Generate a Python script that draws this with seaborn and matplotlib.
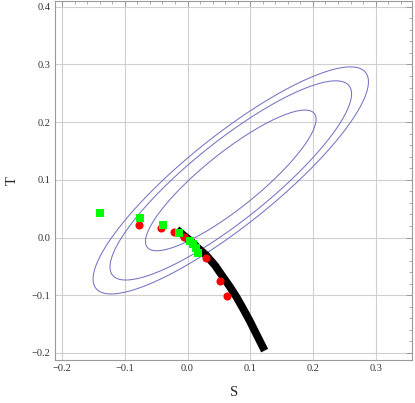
import numpy as np
import pandas as pd
import matplotlib
matplotlib.use("Agg")
import matplotlib.pyplot as plt
import seaborn as sns
from matplotlib.ticker import MultipleLocator, FixedLocator

# ---- data ----
red_S = [-0.078, -0.043, -0.022, -0.005, 0.008, 0.029, 0.052, 0.063]
red_T = [0.022, 0.016, 0.009, 0.001, -0.010, -0.035, -0.075, -0.102]

green_S = [-0.139, -0.076, -0.039, -0.014, 0.004, 0.009, 0.014, 0.017]
green_T = [0.043, 0.033, 0.021, 0.007, -0.006, -0.012, -0.019, -0.027]

curve_S = [-0.017, -0.007, 0.004, 0.017, 0.030, 0.044, 0.057, 0.068, 0.078, 0.089, 0.099, 0.111, 0.123]
curve_T = [0.014, 0.0045, -0.005, -0.0185, -0.031, -0.0485, -0.069, -0.086, -0.103, -0.124, -0.144, -0.170, -0.196]

# fit ellipse parameters (centre, widths, correlation) and chi^2 levels (68%, 90%, 95%)
center_S, center_T = 0.069, 0.099
sigma_S, sigma_T, rho = 0.0897, 0.0804, 0.869
chi2_levels = [2.30, 4.61, 5.99]

x_ticks = [-0.2, -0.1, 0.0, 0.1, 0.2, 0.3]
x_tick_labels = ["\u22120.2", "\u22120.1", "0.0", "0.1", "0.2", "0.3"]
y_ticks = [-0.2, -0.1, 0.0, 0.1, 0.2, 0.3, 0.4]
y_tick_labels = ["\u22120.2", "\u22120.1", "0.0", "0.1", "0.2", "0.3", "0.4"]

# ---- style ----
sns.set_style("white")
plt.rcParams['font.family'] = ['Liberation Serif', 'DejaVu Serif']

W, H = 415, 403
fig = plt.figure(figsize=(W / 100, H / 100), dpi=100)
left, right, top, bottom = 54.5, 412.0, 1.0, 360.0
ax = fig.add_axes([left / W, 1 - bottom / H, (right - left) / W, (bottom - top) / H])

# ellipses via chi^2 contours
gs = np.linspace(-0.3, 0.45, 700)
gt = np.linspace(-0.3, 0.5, 700)
SS, TT = np.meshgrid(gs, gt)
cov = np.array([[sigma_S**2, rho * sigma_S * sigma_T],
                [rho * sigma_S * sigma_T, sigma_T**2]])
inv = np.linalg.inv(cov)
dS, dT = SS - center_S, TT - center_T
chi2 = inv[0, 0] * dS**2 + 2 * inv[0, 1] * dS * dT + inv[1, 1] * dT**2
ax.contour(SS, TT, chi2, levels=chi2_levels, colors='#7474c2', linewidths=0.75, zorder=2)

# thick black curve
curve_df = pd.DataFrame({"S": curve_S, "T": curve_T})
sns.lineplot(data=curve_df, x="S", y="T", sort=False, color="black", lw=5.6,
             ax=ax, zorder=3, solid_capstyle="butt")

red_df = pd.DataFrame({"S": red_S, "T": red_T})
sns.scatterplot(data=red_df, x="S", y="T", color="#ff0000", marker="o", s=34,
                linewidth=0, ax=ax, zorder=4)

green_df = pd.DataFrame({"S": green_S, "T": green_T})
sns.scatterplot(data=green_df, x="S", y="T", color="#00ff00", marker="s", s=30,
                linewidth=0, ax=ax, zorder=5)

ax.set_xlim(-0.2121, 0.358)
ax.set_ylim(-0.2123, 0.410)

ax.xaxis.set_major_locator(FixedLocator(x_ticks))
ax.yaxis.set_major_locator(FixedLocator(y_ticks))
ax.set_xticklabels(x_tick_labels)
ax.set_yticklabels(y_tick_labels)
ax.xaxis.set_minor_locator(MultipleLocator(0.02))
ax.yaxis.set_minor_locator(MultipleLocator(0.02))

ax.grid(True, which='major', color='#cfcfcf', lw=0.8, zorder=0)
ax.set_axisbelow(True)

ax.tick_params(which='both', direction='in', top=True, right=True, color='#9a9a9a',
               labelsize=7.5, labelcolor='#333333', pad=3)
ax.tick_params(which='major', length=4.5, width=0.7)
ax.tick_params(which='minor', length=2.5, width=0.6)
for sp in ax.spines.values():
    sp.set_color('#9a9a9a')
    sp.set_linewidth(0.8)

ax.set_xlabel("S", fontsize=10.5)
ax.set_ylabel("T", fontsize=10.5)
ax.xaxis.set_label_coords((234 - left) / (right - left), (bottom - 393) / (bottom - top))
ax.yaxis.set_label_coords((12 - left) / (right - left), (bottom - 181) / (bottom - top))
ax.xaxis.label.set_va('center')
ax.yaxis.label.set_va('center')

fig.savefig("out.png", dpi=100)
